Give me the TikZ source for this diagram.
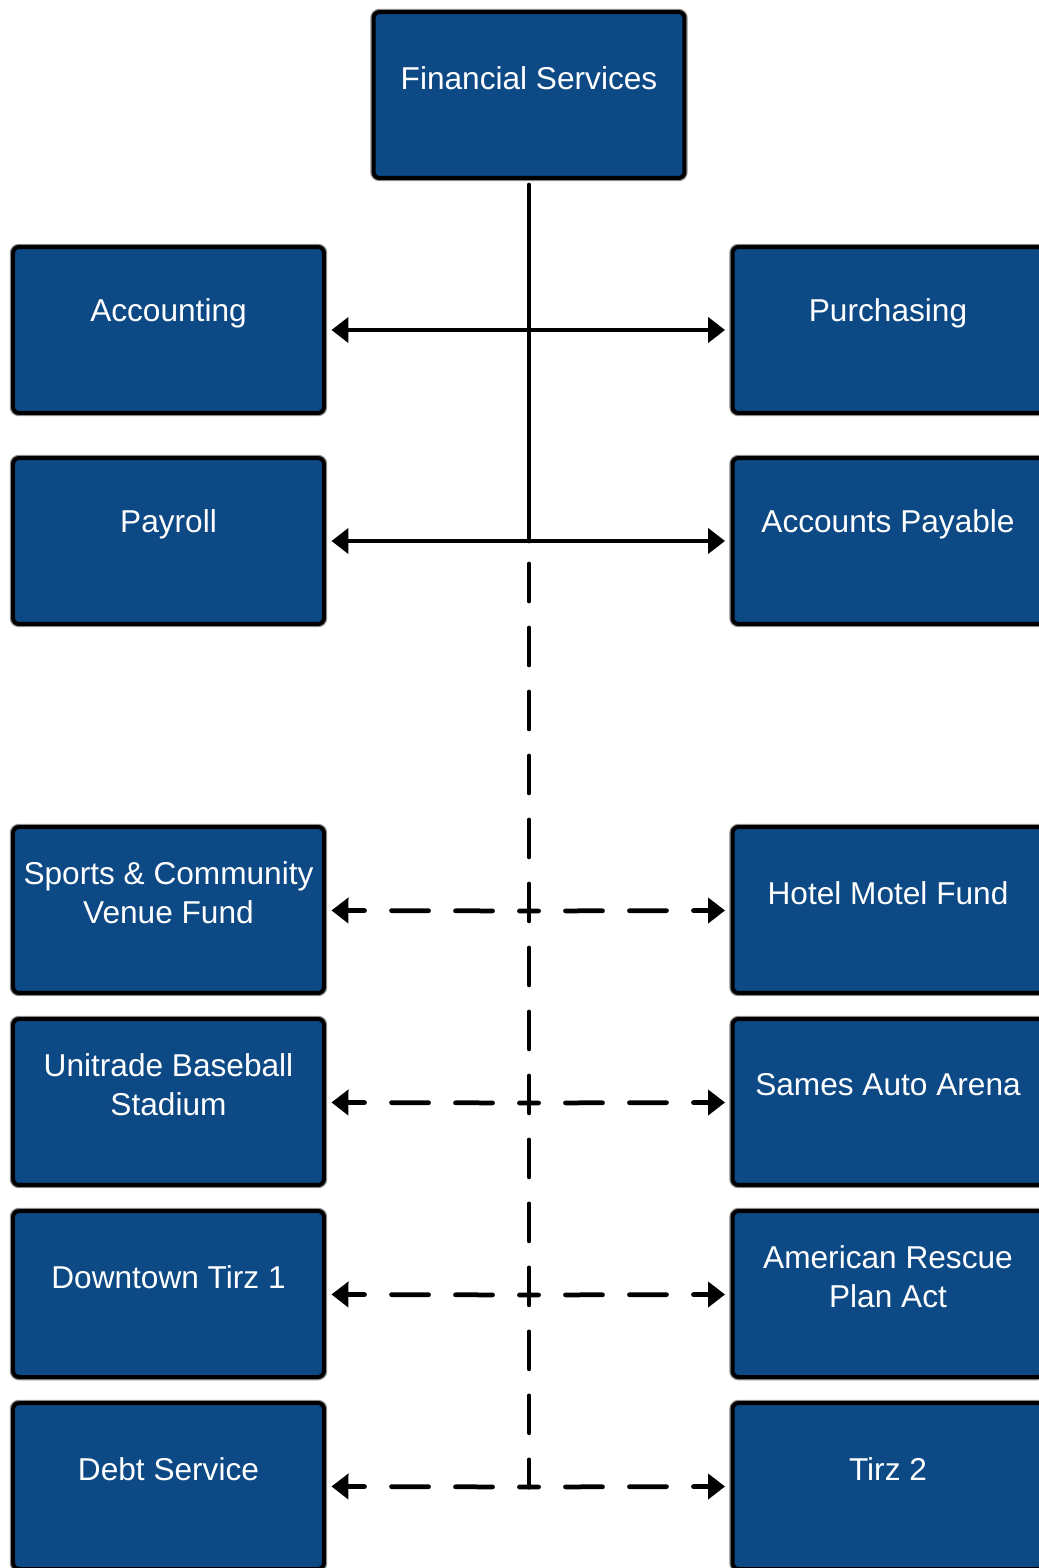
\documentclass[tikz,border=0pt]{standalone}
\usepackage{fontspec}
\setmainfont{Liberation Sans}
\usetikzlibrary{arrows.meta,positioning}
\definecolor{unitblue}{RGB}{12,73,133}
\tikzset{
	link/.style={line width=0.095cm,line cap=round},
	link arrow/.style={link,-{Triangle[length=0.34cm,width=0.5cm]},shorten >=0.11cm},
	link dashed/.style={link arrow,dash pattern=on 0.74cm off 0.54cm,dash phase=0.55cm}
}

\begin{document}
\begin{tikzpicture}[x=0.02cm,y=-0.02cm,
		unit/.style = {draw = black, line width = 0.08cm, rounded corners = 0.12cm, fill = unitblue,
			minimum width = 6.22cm, minimum height = 3.32cm, inner sep = 0mm,
			preaction = {draw = black!45, line width = 0.13cm}},
		unit text/.style = {text = white, align = center, inner sep = 0mm, font = \fontsize{18}{22}\selectfont},
	]
	\useasboundingbox (0,0) rectangle (1038,1568);

	\node [unit] (fin) at (529,95) {};
	\node [unit text] (fin-t) at ([yshift=-1.36cm]fin.north) {Financial Services};

	\foreach\n/\x/\y/\t in {acc/168.5/330/Accounting, pur/888/330/Purchasing,
		pay/168.5/541/Payroll, ap/888/541/Accounts Payable,
		scv/168.5/910/{Sports \& Community\\Venue Fund}, hmf/888/910/Hotel Motel Fund,
		ubs/168.5/1102/{Unitrade Baseball\\Stadium}, saa/888/1102/Sames Auto Arena,
		dt/168.5/1294/Downtown Tirz 1, arp/888/1294/{American Rescue\\Plan Act},
		debt/168.5/1486/Debt Service, tirz/888/1486/Tirz 2}{
		\node [unit] (\n) at (\x,\y) {};
		\node [unit text] (\n-t) at ([yshift=-1.36cm]\n.north) {\t};
	}

	% junctions on the trunk
	\foreach\j/\y in {1/330, 2/541, 3/911, 4/1103, 5/1295, 6/1487}{
		\coordinate (j\j) at (529,\y);
	}

	\draw [link, shorten <=0.1cm] (fin) -- (j2);
	\draw [link, dash pattern=on 0.74cm off 0.54cm, dash phase=0.82cm] (j2) -- (j6);

	\foreach\j/\l/\r in {1/acc/pur, 2/pay/ap}{
		\draw [link arrow] (j\j) -- (\l);
		\draw [link arrow] (j\j) -- (\r);
	}
	\foreach\j/\l/\r in {3/scv/hmf, 4/ubs/saa, 5/dt/arp, 6/debt/tirz}{
		\draw [link dashed] (j\j) -- (\l);
		\draw [link dashed] (j\j) -- (\r);
	}
\end{tikzpicture}
\end{document}
